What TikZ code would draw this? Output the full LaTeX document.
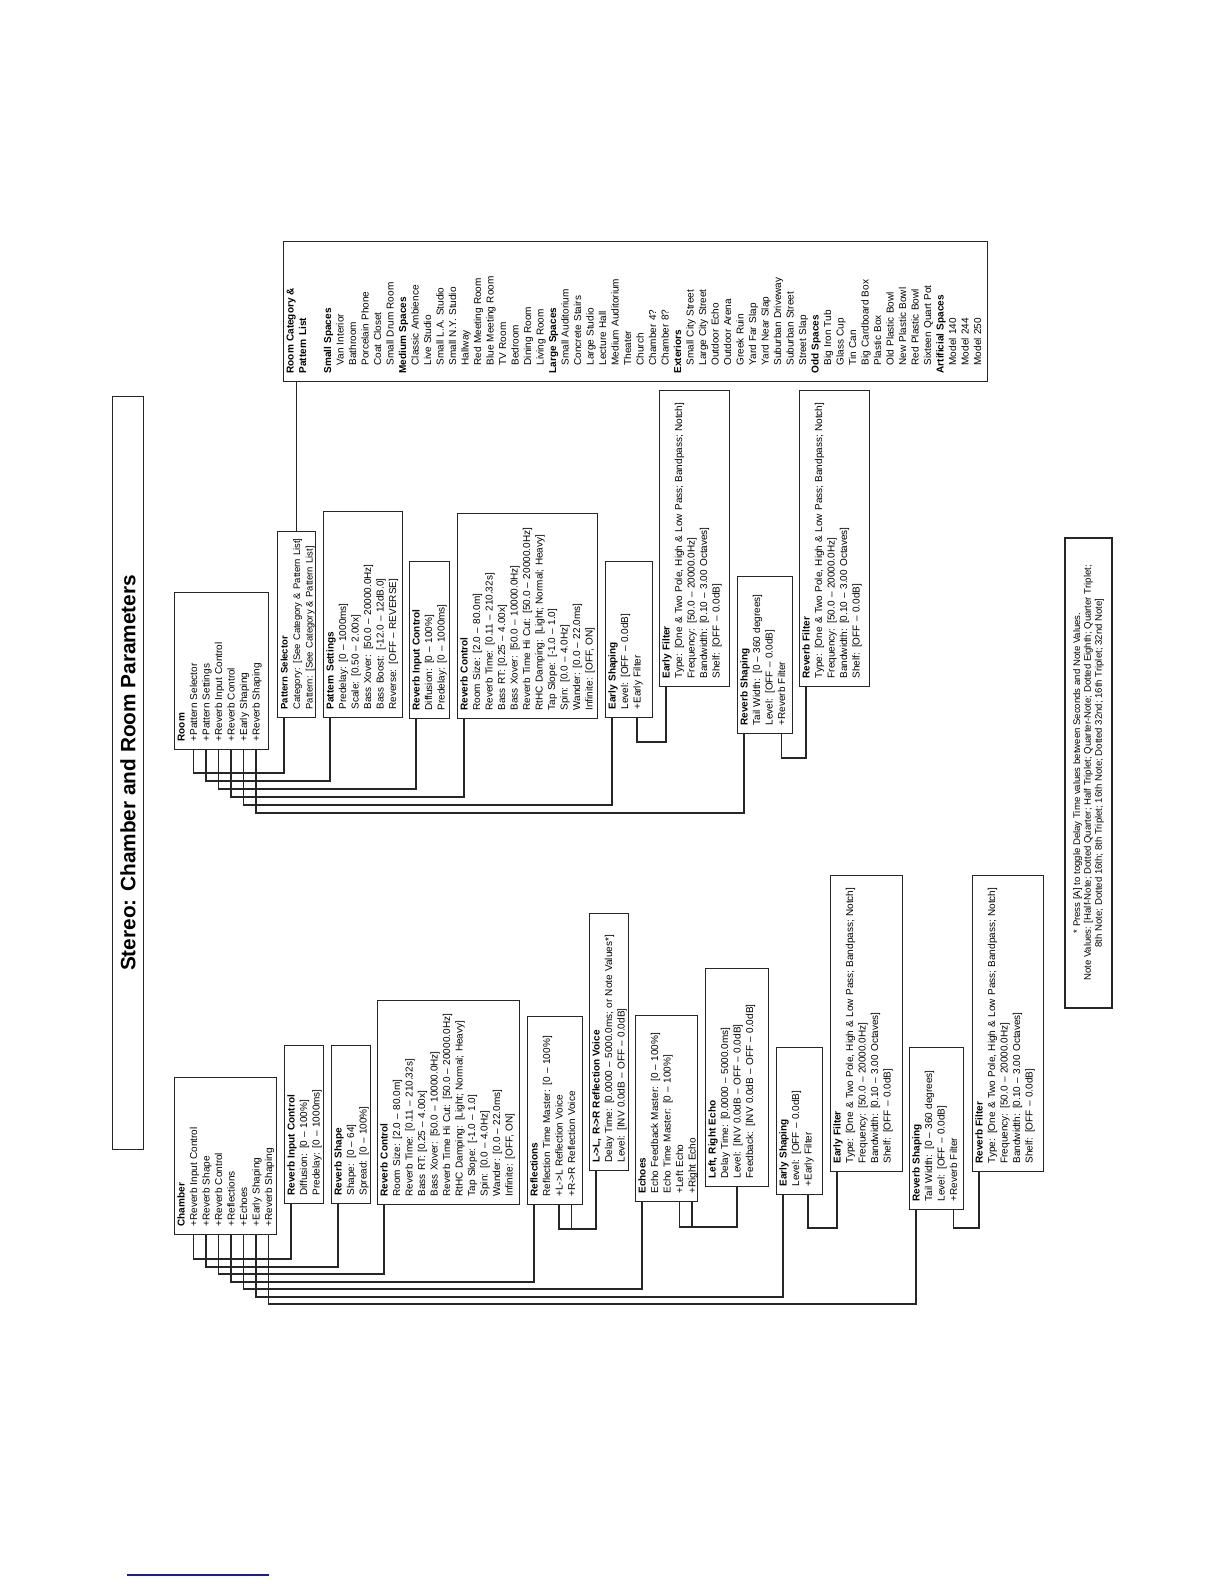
\documentclass[tikz,border=0pt]{standalone}
\usepackage{fontspec}
\setmainfont{Liberation Sans}
\usetikzlibrary{calc}
\setlength{\parindent}{0pt}
\definecolor{navyline}{RGB}{28,28,150}
\tikzset{
  bx/.style 2 args={draw=black!85, line width=0.55pt, anchor=north west, inner xsep=4pt, inner ysep=0pt,
    text width=#1, text height=5pt, text depth=#2, font=\fontsize{5}{6.25}\selectfont, text=black},
  wire/.style={draw=black!85, line width=0.55pt},
  titlebox/.style={draw=black!85, line width=0.55pt, anchor=north west, minimum width=376.5pt,
    minimum height=15.5pt, inner sep=0pt, font=\fontsize{10.4}{12}\selectfont\bfseries},
  footbox/.style={draw=black!85, line width=0.55pt, minimum width=235pt, minimum height=23.5pt,
    inner sep=0pt, align=center, font=\fontsize{4.8}{5.4}\selectfont},
}
% lines of a box, never wrapped
\newcommand{\lns}[1]{\begin{tabular}[t]{@{}l@{}}#1\end{tabular}}
% connector: parent row offset, bus offset, child row offset (page px units)
\newcommand{\wireto}[5]{\draw[wire] ($(#1.north west)+(#2,0)$) -- ++(0,-#3) -| ($(#4.north west)+(#5,0)$);}
\newcommand{\catind}{\hspace*{4pt}}
\begin{document}
\begin{tikzpicture}[x=0.5pt,y=0.5pt]
\begin{scope}[rotate=90, transform shape]
\fill[white] (0,0) rectangle (1584,-1224);
\useasboundingbox (0,0) rectangle (1584,-1224);

% title
\node[titlebox] (title) at (434,-112) {Stereo: Chamber and Room Parameters};

% ---------------- Chamber ----------------
\node[bx={70.5pt}{46pt}] (chamber) at (349,-174) {\lns{\textbf{Chamber}\\+Reverb Input Control\\+Reverb Shape\\+Reverb Control\\+Reflections\\+Echoes\\+Early Shaping\\+Reverb Shaping}};

\node[bx={71pt}{14.5pt}] (ricc) at (380,-284) {\lns{\textbf{Reverb Input Control}\\Diffusion: [0 – 100\%]\\Predelay: [0 – 1000ms]}};
\node[bx={71pt}{14.5pt}] (shapec) at (380,-331) {\lns{\textbf{Reverb Shape}\\Shape: [0 – 64]\\Spread: [0 – 100\%]}};
\node[bx={94pt}{66pt}] (rcc) at (379,-377) {\lns{\textbf{Reverb Control}\\Room Size: [2.0 – 80.0m]\\Reverb Time: [0.11 – 210.32s]\\Bass RT: [0.25 – 4.00x]\\Bass Xover: [50.0 – 10000.0Hz]\\Reverb Time Hi Cut: [50.0 – 20000.0Hz]\\RtHC Damping: [Light; Normal; Heavy]\\Tap Slope: [-1.0 – 1.0]\\Spin: [0.0 – 4.0Hz]\\Wander: [0.0 – 22.0ms]\\Infinite: [OFF, ON]}};
\node[bx={86pt}{22.5pt}] (refl) at (379,-527) {\lns{\textbf{Reflections}\\Reflection Time Master: [0 – 100\%]\\+L->L Reflection Voice\\+R->R Reflection Voice}};
\node[bx={120.5pt}{14.5pt}] (ll) at (413,-589) {\lns{\textbf{L->L, R->R Reflection Voice}\\Delay Time: [0.0000 – 5000.0ms; or Note Values*]\\Level: [INV 0.0dB – OFF – 0.0dB]}};
\node[bx={85pt}{26pt}] (echoes) at (382,-635) {\lns{\textbf{Echoes}\\Echo Feedback Master: [0 – 100\%]\\Echo Time Master: [0 – 100\%]\\+Left Echo\\+Right Echo}};
\node[bx={101pt}{26.5pt}] (lre) at (397,-705) {\lns{\textbf{Left, Right Echo}\\Delay Time: [0.0000 – 5000.0ms]\\Level: [INV 0.0dB – OFF – 0.0dB]\\Feedback: [INV 0.0dB – OFF – 0.0dB]}};
\node[bx={65.5pt}{18pt}] (esc) at (389,-776) {\lns{\textbf{Early Shaping}\\Level: [OFF – 0.0dB]\\+Early Filter}};
\node[bx={140pt}{31pt}] (efc) at (412,-830) {\lns{\textbf{Early Filter}\\Type: [One \& Two Pole, High \& Low Pass; Bandpass; Notch]\\Frequency: [50.0 – 20000.0Hz]\\Bandwidth: [0.10 – 3.00 Octaves]\\Shelf: [OFF – 0.0dB]}};
\node[bx={73pt}{22pt}] (rsc) at (374,-909) {\lns{\textbf{Reverb Shaping}\\Tail Width: [0 – 360 degrees]\\Level: [OFF – 0.0dB]\\+Reverb Filter}};
\node[bx={140pt}{30.5pt}] (rfc) at (412,-972) {\lns{\textbf{Reverb Filter}\\Type: [One \& Two Pole, High \& Low Pass; Bandpass; Notch]\\Frequency: [50.0 – 20000.0Hz]\\Bandwidth: [0.10 – 3.00 Octaves]\\Shelf: [OFF – 0.0dB]}};

% ---------------- Room ----------------
\node[bx={70.5pt}{42pt}] (room) at (834,-174) {\lns{\textbf{Room}\\+Pattern Selector\\+Pattern Settings\\+Reverb Input Control\\+Reverb Control\\+Early Shaping\\+Reverb Shaping}};
\node[bx={85pt}{14pt}, font=\fontsize{4.75}{6.25}\selectfont] (ps) at (866,-277) {\lns{\textbf{Pattern Selector}\\Category: [See Category \& Pattern List]\\Pattern: [See Category \& Pattern List]}};
\node[bx={95pt}{34.5pt}] (pset) at (866,-323) {\lns{\textbf{Pattern Settings}\\Predelay: [0 – 1000ms]\\Scale: [0.50 – 2.00x]\\Bass Xover: [50.0 – 20000.0Hz]\\Bass Boost: [-12.0 – 12dB.0]\\Reverse: [OFF – REVERSE]}};
\node[bx={70.5pt}{15pt}] (ricr) at (865,-409) {\lns{\textbf{Reverb Input Control}\\Diffusion: [0 – 100\%]\\Predelay: [0 – 1000ms]}};
\node[bx={94.5pt}{65pt}] (rcr) at (865,-457) {\lns{\textbf{Reverb Control}\\Room Size: [2.0 – 80.0m]\\Reverb Time: [0.11 – 210.32s]\\Bass RT: [0.25 – 4.00x]\\Bass Xover: [50.0 – 10000.0Hz]\\Reverb Time Hi Cut: [50.0 – 20000.0Hz]\\RtHC Damping: [Light; Normal; Heavy]\\Tap Slope: [-1.0 – 1.0]\\Spin: [0.0 – 4.0Hz]\\Wander: [0.0 – 22.0ms]\\Infinite: [OFF, ON]}};
\node[bx={70pt}{18.5pt}] (esr) at (866,-605) {\lns{\textbf{Early Shaping}\\Level: [OFF – 0.0dB]\\+Early Filter}};
\node[bx={140pt}{30pt}] (efr) at (897,-659) {\lns{\textbf{Early Filter}\\Type: [One \& Two Pole, High \& Low Pass; Bandpass; Notch]\\Frequency: [50.0 – 20000.0Hz]\\Bandwidth: [0.10 – 3.00 Octaves]\\Shelf: [OFF – 0.0dB]}};
\node[bx={70.5pt}{22.5pt}] (rsr) at (850,-737) {\lns{\textbf{Reverb Shaping}\\Tail Width: [0 – 360 degrees]\\Level: [OFF – 0.0dB]\\+Reverb Filter}};
\node[bx={140pt}{30pt}] (rfr) at (897,-799) {\lns{\textbf{Reverb Filter}\\Type: [One \& Two Pole, High \& Low Pass; Bandpass; Notch]\\Frequency: [50.0 – 20000.0Hz]\\Bandwidth: [0.10 – 3.00 Octaves]\\Shelf: [OFF – 0.0dB]}};

\node[bx={62pt}{347pt}, font=\fontsize{5}{6.25}\selectfont] (roomcat) at (1202,-283) {\lns{\textbf{Room Category \&}\\\textbf{Pattern List}\\~\\
\textbf{Small Spaces}\\\catind Van Interior\\\catind Bathroom\\\catind Porcelain Phone\\\catind Coat Closet\\\catind Small Drum Room\\
\textbf{Medium Spaces}\\\catind Classic Ambience\\\catind Live Studio\\\catind Small L.A. Studio\\\catind Small N.Y. Studio\\\catind Hallway\\\catind Red Meeting Room\\\catind Blue Meeting Room\\\catind TV Room\\\catind Bedroom\\\catind Dining Room\\\catind Living Room\\
\textbf{Large Spaces}\\\catind Small Auditorium\\\catind Concrete Stairs\\\catind Large Studio\\\catind Lecture Hall\\\catind Medium Auditorium\\\catind Theater\\\catind Church\\\catind Chamber 4?\\\catind Chamber 8?\\
\textbf{Exteriors}\\\catind Small City Street\\\catind Large City Street\\\catind Outdoor Echo\\\catind Outdoor Arena\\\catind Greek Ruin\\\catind Yard Far Slap\\\catind Yard Near Slap\\\catind Suburban Driveway\\\catind Suburban Street\\\catind Street Slap\\
\textbf{Odd Spaces}\\\catind Big Iron Tub\\\catind Glass Cup\\\catind Tin Can\\\catind Big Cardboard Box\\\catind Plastic Box\\\catind Old Plastic Bowl\\\catind New Plastic Bowl\\\catind Red Plastic Bowl\\\catind Sixteen Quart Pot\\
\textbf{Artificial Spaces}\\\catind Model 140\\\catind Model 244\\\catind Model 250}};

% footnote
\node[footbox] (foot) at (811,-1088.5) {* Press [A] to toggle Delay Time values between Seconds and Note Values.\\Note Values: [Half-Note; Dotted Quarter; Half Triplet; Quarter-Note; Dotted Eighth; Quarter Triplet;\\8th Note; Dotted 16th; 8th Triplet; 16th Note; Dotted 32nd; 16th Triplet; 32nd Note]};

% blue rule at the page foot
\draw[navyline, line width=0.7pt] (9,-127) -- (9,-269);
\end{scope}

% ---------- connectors, drawn in page orientation ----------
\wireto{chamber}{19.5}{24}{ricc}{7}
\wireto{chamber}{32}{32}{shapec}{7}
\wireto{chamber}{44.5}{39}{rcc}{7}
\wireto{chamber}{57}{47}{refl}{7}
\wireto{chamber}{69.5}{54}{echoes}{7}
\wireto{chamber}{82}{62}{esc}{7}
\wireto{chamber}{94.5}{69}{rsc}{7}
\wireto{refl}{32}{24}{ll}{7}
\wireto{refl}{44.5}{24}{ll}{7}
\wireto{echoes}{44.5}{25}{lre}{32}
\wireto{echoes}{57}{25}{lre}{32}
\wireto{esc}{32}{33}{efc}{7}
\wireto{rsc}{44.5}{18}{rfc}{7}

\wireto{room}{19.5}{23}{ps}{7}
\wireto{room}{32}{31}{pset}{7}
\wireto{room}{44.5}{39}{ricr}{7}
\wireto{room}{57}{47}{rcr}{7}
\wireto{room}{69.5}{55}{esr}{7}
\wireto{room}{82}{63}{rsr}{7}
\wireto{esr}{32}{24}{efr}{7}
\wireto{rsr}{44.5}{24}{rfr}{7}
\coordinate (pscat) at ($(ps.north east)+(19.5,0)$);
\draw[wire] (pscat) -- (pscat |- roomcat.west);
\end{tikzpicture}
\end{document}
